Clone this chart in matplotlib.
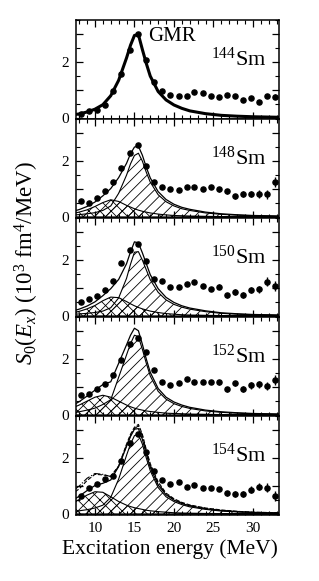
import numpy as np
import matplotlib.pyplot as plt
from matplotlib.ticker import MultipleLocator

plt.rcParams['font.family'] = 'Liberation Serif'
plt.rcParams['mathtext.fontset'] = 'custom'
plt.rcParams['mathtext.rm'] = 'Liberation Serif'
plt.rcParams['mathtext.it'] = 'Liberation Serif:italic'
plt.rcParams['hatch.linewidth'] = 0.6

# measured strength (10^3 fm^4/MeV) vs excitation energy (MeV)
nuclei = ['144', '148', '150', '152', '154']
E_pts = [8.25, 9.3, 10.3, 11.3, 12.3, 13.35, 14.4, 15.4, 16.45, 17.5, 18.5, 19.55,
         20.6, 21.6, 22.6, 23.65, 24.7, 25.7, 26.7, 27.7, 28.7, 29.75, 30.8, 31.8, 32.8]
S_144 = [0.14, 0.26, 0.30, 0.48, 0.96, 1.56, 2.44, 3.00, 2.06, 1.28, 0.96, 0.83, 0.78,
         0.78, 0.92, 0.89, 0.80, 0.77, 0.84, 0.80, 0.66, 0.71, 0.56, 0.78, 0.77]
S_148 = [0.56, 0.52, 0.69, 0.94, 1.24, 1.77, 2.29, 2.56, 1.81, 1.27, 1.07, 0.99, 0.98,
         1.07, 1.07, 1.01, 1.07, 0.99, 0.93, 0.74, 0.83, 0.83, 0.83, 0.81, 1.25]
S_150 = [0.51, 0.60, 0.71, 0.95, 1.25, 1.88, 2.36, 2.57, 1.98, 1.31, 1.25, 1.05, 1.05,
         1.13, 1.23, 1.08, 0.96, 1.05, 0.75, 0.87, 0.75, 0.93, 0.96, 1.23, 1.08]
S_152 = [0.71, 0.77, 0.95, 1.10, 1.42, 1.95, 2.52, 2.76, 2.26, 1.61, 1.19, 1.07, 1.13,
         1.29, 1.17, 1.19, 1.17, 1.17, 0.93, 1.13, 0.93, 1.07, 1.10, 1.05, 1.25]
S_154 = [0.65, 0.93, 1.07, 1.27, 1.37, 1.90, 2.52, 2.85, 2.23, 1.55, 1.23, 1.07, 1.15,
         0.98, 1.05, 0.95, 0.93, 0.89, 0.75, 0.71, 0.71, 0.87, 0.98, 0.95, 0.65]
err_144 = [0.02, 0.02, 0.02, 0.02, 0.02, 0.02, 0.02, 0.02, 0.02, 0.02, 0.02, 0.02, 0.02,
           0.02, 0.03, 0.03, 0.03, 0.03, 0.04, 0.04, 0.05, 0.05, 0.06, 0.07, 0.08]
err_sm = [0.03, 0.03, 0.03, 0.03, 0.03, 0.03, 0.03, 0.03, 0.03, 0.03, 0.04, 0.04, 0.05,
          0.05, 0.06, 0.06, 0.07, 0.08, 0.09, 0.10, 0.11, 0.12, 0.13, 0.15, 0.17]

# fitted curves
E_fit = [7.5, 8, 9, 10, 11, 12, 13, 14, 14.5, 15, 15.5, 16, 16.5, 17, 18, 19, 20,
         21, 22, 24, 26, 28, 30, 33.5]
fit_144 = [0.13, 0.15, 0.22, 0.32, 0.48, 0.80, 1.35, 2.15, 2.60, 2.95, 2.98, 2.45,
           1.95, 1.50, 0.95, 0.65, 0.47, 0.35, 0.26, 0.16, 0.10, 0.07, 0.05, 0.03]

low_148 = [0.15, 0.18, 0.26, 0.38, 0.52, 0.62, 0.56, 0.42, 0.36, 0.30, 0.25, 0.21,
           0.18, 0.15, 0.11, 0.08, 0.06, 0.05, 0.04, 0.03, 0.02, 0.015, 0.01, 0.01]
high_148 = [0.08, 0.09, 0.12, 0.16, 0.24, 0.40, 0.85, 1.50, 1.90, 2.20, 2.28, 2.00,
            1.60, 1.25, 0.80, 0.55, 0.40, 0.30, 0.24, 0.15, 0.10, 0.07, 0.05, 0.03]
fit_148 = [0.23, 0.27, 0.38, 0.54, 0.76, 1.02, 1.41, 1.92, 2.26, 2.50, 2.53, 2.21,
           1.78, 1.40, 0.91, 0.63, 0.46, 0.35, 0.28, 0.18, 0.12, 0.085, 0.06, 0.04]

low_150 = [0.14, 0.17, 0.26, 0.38, 0.55, 0.68, 0.66, 0.52, 0.44, 0.37, 0.31, 0.26,
           0.22, 0.18, 0.13, 0.09, 0.07, 0.05, 0.04, 0.03, 0.02, 0.015, 0.01, 0.01]
high_150 = [0.07, 0.08, 0.10, 0.13, 0.18, 0.30, 0.65, 1.35, 1.85, 2.28, 2.30, 2.00,
            1.65, 1.30, 0.85, 0.58, 0.42, 0.32, 0.25, 0.16, 0.10, 0.07, 0.05, 0.03]
fit_150 = [0.21, 0.25, 0.36, 0.51, 0.73, 0.98, 1.31, 1.87, 2.29, 2.65, 2.61, 2.26,
           1.87, 1.48, 0.98, 0.67, 0.49, 0.37, 0.29, 0.19, 0.12, 0.085, 0.06, 0.04]

low_152 = [0.30, 0.36, 0.50, 0.64, 0.71, 0.64, 0.50, 0.36, 0.30, 0.25, 0.21, 0.18,
           0.15, 0.13, 0.10, 0.07, 0.06, 0.05, 0.04, 0.03, 0.02, 0.015, 0.01, 0.01]
high_152 = [0.10, 0.12, 0.18, 0.25, 0.38, 0.55, 1.35, 2.15, 2.55, 2.85, 2.80, 2.35,
            1.85, 1.40, 0.85, 0.57, 0.41, 0.31, 0.24, 0.15, 0.10, 0.07, 0.05, 0.03]
fit_152 = [0.40, 0.48, 0.68, 0.89, 1.09, 1.19, 1.85, 2.51, 2.85, 3.10, 3.01, 2.53,
           2.00, 1.53, 0.95, 0.64, 0.47, 0.36, 0.28, 0.18, 0.12, 0.085, 0.06, 0.04]

low_154 = [0.45, 0.52, 0.68, 0.80, 0.78, 0.62, 0.45, 0.32, 0.27, 0.23, 0.20, 0.17,
           0.14, 0.12, 0.09, 0.07, 0.05, 0.04, 0.035, 0.025, 0.02, 0.015, 0.01, 0.01]
high_154 = [0.10, 0.12, 0.16, 0.22, 0.32, 0.60, 1.25, 2.10, 2.50, 2.80, 2.85, 2.50,
            2.00, 1.55, 0.95, 0.62, 0.45, 0.34, 0.26, 0.17, 0.11, 0.08, 0.055, 0.03]
fit_154 = [0.55, 0.64, 0.84, 1.02, 1.10, 1.22, 1.70, 2.42, 2.77, 3.03, 3.05, 2.67,
           2.14, 1.67, 1.04, 0.69, 0.50, 0.38, 0.295, 0.195, 0.13, 0.095, 0.065, 0.04]
dash_154 = [0.80, 0.90, 1.20, 1.42, 1.40, 1.35, 1.72, 2.50, 2.85, 3.10, 3.20, 2.85,
            2.30, 1.80, 1.15, 0.75, 0.55, 0.42, 0.33, 0.22, 0.15, 0.10, 0.07, 0.05]
dashdot_154 = [0.90, 1.00, 1.28, 1.45, 1.42, 1.34, 1.70, 2.45, 2.80, 3.05, 3.15, 2.80,
               2.25, 1.75, 1.10, 0.72, 0.53, 0.40, 0.31, 0.20, 0.13, 0.09, 0.06, 0.04]

points = [S_144, S_148, S_150, S_152, S_154]
errors = [err_144, err_sm, err_sm, err_sm, err_sm]
fits = [fit_144, fit_148, fit_150, fit_152, fit_154]
lows = [None, low_148, low_150, low_152, low_154]
highs = [None, high_148, high_150, high_152, high_154]

fig = plt.figure(figsize=(3.19, 5.81), dpi=100)
W, H = 319., 581.
tops = [20, 119, 218, 317, 416]
panel_h = 99

for i, nuc in enumerate(nuclei):
    ax = fig.add_axes([76 / W, 1 - (tops[i] + panel_h) / H, 203 / W, panel_h / H])
    if lows[i] is not None:
        ax.fill_between(E_fit, highs[i], facecolor='none', edgecolor='k',
                        hatch='///', linewidth=0.8)
        ax.fill_between(E_fit, lows[i], facecolor='none', edgecolor='k',
                        hatch='xxx', linewidth=0.8)
        ax.plot(E_fit, fits[i], color='k', lw=0.9)
    else:
        ax.plot(E_fit, fits[i], color='k', lw=2.2)
    if nuc == '154':
        ax.plot(E_fit, dash_154, color='k', lw=0.8, ls='--')
        ax.plot(E_fit, dashdot_154, color='k', lw=0.8, ls='-.')
    ax.errorbar(E_pts, points[i], yerr=errors[i], fmt='o', color='k',
                ms=3.7, elinewidth=1.0, capsize=0, clip_on=True)

    ax.set_xlim(7.6, 33.3)
    ax.set_ylim(-0.03, 3.5)
    ax.xaxis.set_major_locator(MultipleLocator(5))
    ax.xaxis.set_minor_locator(MultipleLocator(1))
    ax.set_yticks([0, 1, 2, 3])
    ax.set_yticklabels(['0', '', '2', ''])
    ax.yaxis.set_minor_locator(MultipleLocator(0.5))
    ax.tick_params(which='both', direction='in', top=True, right=True,
                   labelsize=11, pad=5)
    ax.tick_params(which='major', length=5, width=0.9)
    ax.tick_params(which='minor', length=3, width=0.8)
    for s in ax.spines.values():
        s.set_linewidth(1.1)
    if i < len(nuclei) - 1:
        ax.set_xticklabels([])
    else:
        ax.set_xlabel('Excitation energy (MeV)', fontsize=15.5, labelpad=3)
        ax.xaxis.set_label_coords(0.465, -0.25)

    ax.text(0.665, 0.54, r'$\mathregular{^{' + nuc + '}}$Sm', transform=ax.transAxes,
            fontsize=16, ha='left', va='baseline')
    if i == 0:
        ax.text(0.355, 0.79, 'GMR', transform=ax.transAxes, fontsize=15,
                ha='left', va='baseline')

fig.text(27 / W, 1 - 263 / H, r'$S_0(E_x)$ (10$^3$ fm$^4$/MeV)', rotation=90,
         fontsize=16.5, ha='center', va='center')

fig.savefig('out.png', dpi=100)
